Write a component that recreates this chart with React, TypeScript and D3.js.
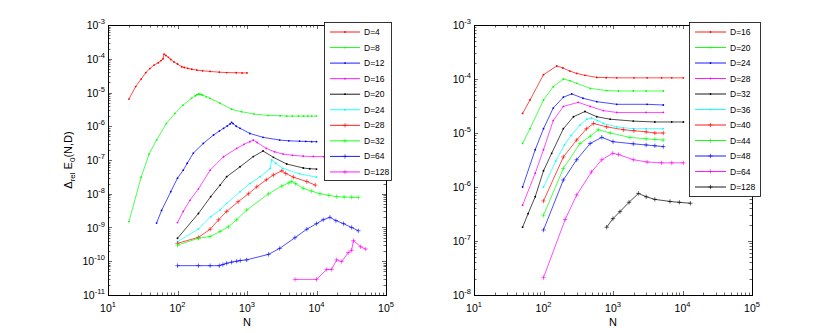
import { useEffect, useRef } from "react";
import * as d3 from "d3";

// ---- left panel: N vs relative error, D = 4 ... 128
const d4 = [[20, 6.4e-6], [25, 1.5e-5], [30, 2.5e-5], [35, 3.9e-5], [40, 5.1e-5], [46, 6.5e-5], [53, 7.6e-5], [58, 8.8e-5], [62, 1.0e-4], [64, 1.38e-4], [68, 1.25e-4], [74, 1.1e-4], [80, 9.5e-5], [89, 8e-5], [100, 7e-5], [115, 5.8e-5], [125, 5.5e-5], [140, 5.2e-5], [160, 4.9e-5], [190, 4.6e-5], [230, 4.4e-5], [295, 4.2e-5], [400, 4.0e-5], [510, 3.9e-5], [700, 3.85e-5], [850, 3.8e-5], [1000, 3.8e-5]];
const d8 = [[20, 1.5e-9], [30, 3.1e-8], [39, 1.5e-7], [50, 3.9e-7], [69, 1.2e-6], [92, 2.4e-6], [120, 4.2e-6], [159, 6.7e-6], [180, 8e-6], [190, 8.6e-6], [200, 9.0e-6], [210, 8.9e-6], [220, 8.7e-6], [230, 8.4e-6], [260, 7.5e-6], [295, 6.7e-6], [410, 4.8e-6], [600, 3.2e-6], [830, 2.7e-6], [1260, 2.3e-6], [2000, 2.1e-6], [3000, 2.05e-6], [3730, 2.0e-6], [4500, 2.0e-6], [5500, 2.0e-6], [6500, 2.0e-6], [7500, 2.0e-6], [8500, 2.0e-6], [10000, 2.0e-6]];
const d12 = [[50, 1.35e-9], [59, 3.2e-9], [80, 1.15e-8], [100, 2.9e-8], [121, 5e-8], [138, 8e-8], [169, 1.6e-7], [235, 3.1e-7], [330, 5.5e-7], [400, 7.2e-7], [460, 8.7e-7], [520, 1.02e-6], [570, 1.17e-6], [600, 1.3e-6], [630, 1.2e-6], [700, 1.0e-6], [795, 8.7e-7], [1100, 6.1e-7], [1700, 4.7e-7], [2950, 3.9e-7], [4000, 3.7e-7], [5700, 3.6e-7], [7000, 3.55e-7], [8500, 3.5e-7], [10000, 3.5e-7]];
const d16 = [[100, 1.4e-9], [121, 3e-9], [151, 6.4e-9], [200, 1.4e-8], [295, 5e-8], [460, 1.25e-7], [710, 2.2e-7], [900, 2.9e-7], [1100, 3.5e-7], [1230, 3.9e-7], [1400, 3.3e-7], [1900, 2.2e-7], [2500, 1.75e-7], [3300, 1.5e-7], [4500, 1.38e-7], [6450, 1.3e-7], [9000, 1.27e-7], [12600, 1.26e-7]];
const d20 = [[100, 4.8e-10], [200, 2.6e-9], [300, 8.2e-9], [410, 1.8e-8], [510, 3.2e-8], [795, 6.3e-8], [1230, 1.26e-7], [1700, 1.85e-7], [2400, 1.2e-7], [3730, 7.6e-8], [6450, 5.8e-8], [8000, 5.5e-8], [10000, 5.4e-8]];
const d24 = [[100, 3.8e-10], [200, 9e-10], [300, 2.1e-9], [410, 3.3e-9], [510, 5.2e-9], [795, 1.15e-8], [1100, 2e-8], [1550, 3.2e-8], [2150, 5.6e-8], [2270, 1e-7], [2600, 8e-8], [3300, 5.6e-8], [5700, 3.9e-8], [10000, 3.1e-8]];
const d28 = [[100, 3.4e-10], [200, 5.1e-10], [295, 8.9e-10], [390, 1.7e-9], [510, 3e-9], [745, 5.8e-9], [1050, 1e-8], [1380, 1.6e-8], [1900, 2.6e-8], [2400, 3.6e-8], [3170, 4.8e-8], [3600, 4e-8], [4650, 3.1e-8], [7250, 2.3e-8], [9600, 1.8e-8]];
const d32 = [[100, 3e-10], [200, 4.8e-10], [295, 5.4e-10], [410, 7.6e-10], [540, 1.05e-9], [710, 1.7e-9], [990, 3.3e-9], [2040, 1e-8], [3170, 1.7e-8], [4000, 2.1e-8], [4380, 2.3e-8], [5000, 2.0e-8], [6450, 1.45e-8], [8500, 1.2e-8], [11200, 1e-8], [15000, 9e-9], [19500, 8.2e-9], [25000, 8e-9], [32000, 7.9e-9], [40000, 7.8e-9]];
const d64 = [[100, 7.4e-11], [200, 7.4e-11], [295, 7.4e-11], [400, 7.4e-11], [450, 8e-11], [510, 8.7e-11], [600, 9.4e-11], [710, 1e-10], [800, 1.05e-10], [990, 1.1e-10], [2040, 1.6e-10], [2950, 2.4e-10], [4900, 5e-10], [7250, 8.9e-10], [10000, 1.3e-9], [12500, 1.7e-9], [15600, 2e-9], [19000, 1.6e-9], [24500, 1.3e-9], [32000, 1.0e-9], [40000, 8e-10]];
const d128 = [[4900, 2.9e-11], [10000, 2.9e-11], [14000, 5.7e-11], [16500, 5.7e-11], [19500, 1.1e-10], [23000, 9.8e-11], [28600, 1.8e-10], [32000, 2.1e-10], [34000, 4.1e-10], [43000, 2.7e-10], [51000, 2.3e-10]];

// ---- right panel: D = 16 ... 128
const r16 = [[50, 2.3e-5], [64, 4.1e-5], [100, 1.2e-4], [155, 1.74e-4], [190, 1.6e-4], [240, 1.4e-4], [300, 1.27e-4], [395, 1.17e-4], [585, 1.07e-4], [800, 1.06e-4], [1130, 1.05e-4], [2000, 1.05e-4], [3100, 1.05e-4], [5000, 1.05e-4], [7000, 1.05e-4], [10300, 1.05e-4]];
const r20 = [[50, 6.4e-6], [64, 1.2e-5], [100, 4.1e-5], [138, 7.2e-5], [193, 1.0e-4], [240, 9.3e-5], [300, 8.3e-5], [470, 6.7e-5], [810, 6.1e-5], [1200, 6e-5], [1960, 6e-5], [3000, 6e-5], [5300, 6e-5]];
const r24 = [[50, 1.0e-6], [76, 4.9e-6], [100, 1.2e-5], [138, 2.9e-5], [193, 4.6e-5], [255, 5.3e-5], [370, 4.4e-5], [585, 3.8e-5], [1130, 3.4e-5], [3100, 3.4e-5], [5300, 3.3e-5]];
const r28 = [[50, 4.6e-7], [76, 1.8e-6], [100, 4.9e-6], [138, 1.7e-5], [193, 3.1e-5], [316, 3.7e-5], [470, 3.1e-5], [725, 2.6e-5], [1130, 2.4e-5], [3000, 2.4e-5], [5300, 2.4e-5]];
const r32 = [[50, 1.8e-7], [60, 3.2e-7], [76, 6.6e-7], [100, 2e-6], [131, 4.2e-6], [193, 1.2e-5], [270, 2e-5], [395, 2.5e-5], [585, 2.0e-5], [910, 1.8e-5], [1960, 1.66e-5], [4000, 1.6e-5], [7000, 1.6e-5], [10300, 1.6e-5]];
const r36 = [[100, 1e-6], [150, 3e-6], [200, 6e-6], [250, 9e-6], [335, 1.4e-5], [420, 1.8e-5], [490, 1.9e-5], [600, 1.7e-5], [725, 1.5e-5], [1130, 1.3e-5], [1960, 1.2e-5], [3000, 1.2e-5], [5300, 1.2e-5]];
const r40 = [[100, 5.5e-7], [193, 3.6e-6], [300, 7.4e-6], [415, 1.2e-5], [525, 1.5e-5], [810, 1.3e-5], [1410, 1.15e-5], [2000, 1.1e-5], [3000, 1.05e-5], [4000, 1e-5], [5300, 1.0e-5]];
const r44 = [[100, 3e-7], [193, 2.2e-6], [335, 6.4e-6], [470, 8.7e-6], [615, 1.15e-5], [910, 1.0e-5], [1750, 8.3e-6], [3000, 7.8e-6], [4000, 7.6e-6], [5300, 7.4e-6]];
const r48 = [[100, 1.6e-7], [193, 1.35e-6], [300, 3.2e-6], [470, 6.4e-6], [690, 8.3e-6], [1000, 6.9e-6], [1960, 6.3e-6], [3000, 6e-6], [4000, 5.8e-6], [5300, 5.6e-6]];
const r64 = [[100, 2.1e-8], [205, 2.5e-7], [300, 7.1e-7], [490, 1.9e-6], [690, 3.2e-6], [990, 4.2e-6], [1200, 4e-6], [1960, 3.2e-6], [3100, 2.9e-6], [5000, 2.8e-6], [7000, 2.8e-6], [10300, 2.8e-6]];
const r128 = [[810, 1.8e-7], [1000, 2.6e-7], [1260, 3.5e-7], [1700, 5.2e-7], [2320, 7.6e-7], [3000, 6.6e-7], [4000, 5.9e-7], [6600, 5.4e-7], [9000, 5.2e-7], [13000, 5.0e-7]];

const leftData = [d4, d8, d12, d16, d20, d24, d28, d32, d64, d128];
const leftLabels = ["D=4", "D=8", "D=12", "D=16", "D=20", "D=24", "D=28", "D=32", "D=64", "D=128"];
const leftColors = ["#ff0000", "#00ff00", "#0000ff", "#ff00ff", "#000000", "#00ffff", "#ff0000", "#00ff00", "#0000ff", "#ff00ff"];
const leftMarks = [".", ".", ".", ".", ".", ".", "+", "+", "+", "+"];

const rightData = [r16, r20, r24, r28, r32, r36, r40, r44, r48, r64, r128];
const rightLabels = ["D=16", "D=20", "D=24", "D=28", "D=32", "D=36", "D=40", "D=44", "D=48", "D=64", "D=128"];
const rightColors = ["#ff0000", "#00ff00", "#0000ff", "#ff00ff", "#000000", "#00ffff", "#ff0000", "#00ff00", "#0000ff", "#ff00ff", "#000000"];
const rightMarks = [".", ".", ".", ".", ".", ".", "+", "+", "+", "+", "+"];

const xDomain = [10, 1e5];
const leftYDomain = [1e-11, 1e-3];
const rightYDomain = [1e-8, 1e-3];

const FONT = "'Liberation Sans', Arial, Helvetica, sans-serif";

function drawMarker(g, kind, cx, cy, color) {
    if (kind === "+") {
        g.append("path")
            .attr("d", `M${cx - 2.2},${cy}H${cx + 2.2}M${cx},${cy - 2.2}V${cy + 2.2}`)
            .attr("stroke", color)
            .attr("stroke-width", 0.6)
            .attr("fill", "none");
    } else {
        g.append("circle")
            .attr("cx", cx).attr("cy", cy).attr("r", 0.9)
            .attr("fill", color);
    }
}

function drawPanel(svg, cfg) {
    const top = 25, bottom = 295;
    const x = d3.scaleLog().domain(xDomain).range([cfg.x0, cfg.x1]);
    const y = d3.scaleLog().domain(cfg.yDomain).range([bottom, top]);
    const g = svg.append("g");

    const isMajor = v => Math.abs(Math.log10(v) - Math.round(Math.log10(v))) < 1e-9;

    // ticks on all four sides, pointing inward
    x.ticks().forEach(v => {
        const px = Math.round(x(v)) + 0.5;
        const len = isMajor(v) ? 4 : 2.5;
        g.append("path")
            .attr("d", `M${px},${bottom}V${bottom - len}M${px},${top}V${top + len}`)
            .attr("stroke", "#000").attr("stroke-width", 0.6);
        if (isMajor(v)) {
            const t = g.append("text")
                .attr("x", x(v)).attr("y", 312)
                .attr("text-anchor", "middle")
                .attr("font-family", FONT).attr("font-size", 10.5)
                .text("10");
            t.append("tspan").attr("dy", -5).attr("font-size", 7.5).text(Math.round(Math.log10(v)));
        }
    });
    y.ticks().forEach(v => {
        const py = Math.round(y(v)) + 0.5;
        const len = isMajor(v) ? 4 : 2.5;
        g.append("path")
            .attr("d", `M${cfg.x0},${py}H${cfg.x0 + len}M${cfg.x1},${py}H${cfg.x1 - len}`)
            .attr("stroke", "#000").attr("stroke-width", 0.6);
        if (isMajor(v)) {
            const t = g.append("text")
                .attr("x", cfg.x0 - 3).attr("y", y(v) + 4)
                .attr("text-anchor", "end")
                .attr("font-family", FONT).attr("font-size", 10.5)
                .text("10");
            t.append("tspan").attr("dy", -5).attr("font-size", 7.5).text(Math.round(Math.log10(v)));
        }
    });

    g.append("rect")
        .attr("x", cfg.x0 + 0.5).attr("y", top + 0.5)
        .attr("width", cfg.x1 - cfg.x0).attr("height", bottom - top)
        .attr("fill", "none").attr("stroke", "#000").attr("stroke-width", 1);

    // x label
    g.append("text")
        .attr("x", (cfg.x0 + cfg.x1) / 2).attr("y", 326)
        .attr("text-anchor", "middle")
        .attr("font-family", FONT).attr("font-size", 11)
        .text("N");

    // series
    const line = d3.line().x(d => x(d[0])).y(d => y(d[1]));
    cfg.data.forEach((s, i) => {
        g.append("path")
            .attr("d", line(s))
            .attr("fill", "none")
            .attr("stroke", cfg.colors[i])
            .attr("stroke-width", 0.7);
        s.forEach(d => drawMarker(g, cfg.marks[i], x(d[0]), y(d[1]), cfg.colors[i]));
    });

    // legend
    const lg = g.append("g");
    lg.append("rect")
        .attr("x", cfg.lg.x + 0.5).attr("y", cfg.lg.y + 0.5)
        .attr("width", cfg.lg.w).attr("height", cfg.lg.h)
        .attr("fill", "#fff").attr("stroke", "#000").attr("stroke-width", 0.8);
    cfg.labels.forEach((lab, i) => {
        const ly = cfg.lg.y + 10 + i * cfg.lg.step;
        const lx = cfg.lg.x + 6;
        lg.append("line")
            .attr("x1", lx).attr("x2", lx + cfg.lg.lineW)
            .attr("y1", ly).attr("y2", ly)
            .attr("stroke", cfg.colors[i]).attr("stroke-width", 0.9);
        drawMarker(lg, cfg.marks[i], lx + cfg.lg.lineW / 2, ly, cfg.colors[i]);
        lg.append("text")
            .attr("x", lx + cfg.lg.lineW + 4).attr("y", ly + 3)
            .attr("font-family", FONT).attr("font-size", 8.5)
            .text(lab);
    });
}

export default function App() {
    const ref = useRef(null);

    useEffect(() => {
        const svg = d3.select(ref.current);
        svg.selectAll("*").remove();

        drawPanel(svg, {
            x0: 108, x1: 386, yDomain: leftYDomain,
            data: leftData, labels: leftLabels, colors: leftColors, marks: leftMarks,
            lg: { x: 324, y: 22, w: 67, h: 158, step: 15.55, lineW: 30 }
        });
        drawPanel(svg, {
            x0: 474, x1: 752, yDomain: rightYDomain,
            data: rightData, labels: rightLabels, colors: rightColors, marks: rightMarks,
            lg: { x: 689, y: 22, w: 71, h: 174, step: 15.5, lineW: 31 }
        });

        // y label of left panel
        const t = svg.append("text")
            .attr("transform", "translate(72,160) rotate(-90)")
            .attr("text-anchor", "middle")
            .attr("font-family", FONT).attr("font-size", 11);
        t.append("tspan").text("\u0394");
        t.append("tspan").attr("dy", 3).attr("font-size", 8).text("rel");
        t.append("tspan").attr("dy", -3).text(" E");
        t.append("tspan").attr("dy", 3).attr("font-size", 8).text("0");
        t.append("tspan").attr("dy", -3).text("(N,D)");
    }, []);

    return (
        <svg ref={ref} width={830} height={333}
            style={{ position: "absolute", left: 0, top: 0, background: "#fff" }} />
    );
}
